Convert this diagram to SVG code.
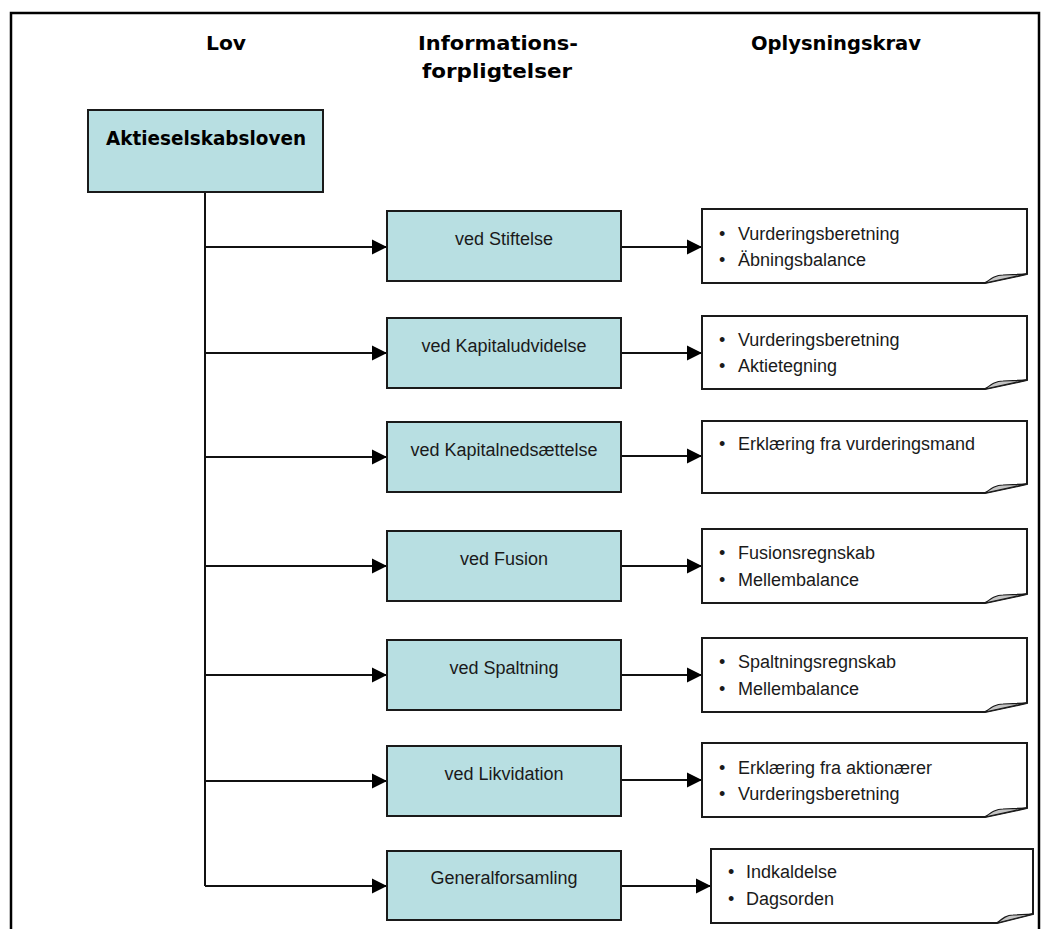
<svg xmlns="http://www.w3.org/2000/svg" width="1045" height="929" viewBox="0 0 1045 929">
<style>
.hdr{font-family:"DejaVu Sans",Verdana,sans-serif;font-weight:bold;font-size:19px;fill:#000;text-anchor:middle}
.box{fill:#B8DFE2;stroke:#1a1a1a;stroke-width:2}
.btxt{font-family:"Liberation Sans",Arial,sans-serif;font-size:18px;fill:#1a1a1a;text-anchor:middle}
.note{fill:#fff;stroke:#1a1a1a;stroke-width:2;stroke-linejoin:miter}
.fold{fill:#c4c4c4;stroke:#1a1a1a;stroke-width:1.2}
.ntxt{font-family:"Liberation Sans",Arial,sans-serif;font-size:18px;fill:#1a1a1a}
.con{fill:none;stroke:#111;stroke-width:2}
</style>
<defs>
<marker id="ah" markerUnits="userSpaceOnUse" markerWidth="16" markerHeight="16" viewBox="0 0 16 16" refX="15" refY="8" orient="auto">
<path d="M0,0.5 L15,8 L0,15.5 Z" fill="#000"/>
</marker>
</defs>
<rect width="1045" height="929" fill="#fff"/>
<g id="frame">
<path d="M11,929 V13 H1039 V929" fill="none" stroke="#000" stroke-width="2.5"/>
</g>
<g id="headers">
<text class="hdr" x="226" y="50" textLength="40" lengthAdjust="spacingAndGlyphs">Lov</text>
<text class="hdr" x="498" y="50" textLength="160" lengthAdjust="spacingAndGlyphs">Informations-</text>
<text class="hdr" x="497" y="78" textLength="150" lengthAdjust="spacingAndGlyphs">forpligtelser</text>
<text class="hdr" x="836" y="50" textLength="170" lengthAdjust="spacingAndGlyphs">Oplysningskrav</text>
</g>
<g id="connectors">
<path class="con" d="M205,192 V886"/>
<path class="con" d="M205,247 H387" marker-end="url(#ah)"/>
<path class="con" d="M205,353 H387" marker-end="url(#ah)"/>
<path class="con" d="M205,457 H387" marker-end="url(#ah)"/>
<path class="con" d="M205,566 H387" marker-end="url(#ah)"/>
<path class="con" d="M205,675 H387" marker-end="url(#ah)"/>
<path class="con" d="M205,781 H387" marker-end="url(#ah)"/>
<path class="con" d="M205,886 H387" marker-end="url(#ah)"/>
<path class="con" d="M621,247 H702" marker-end="url(#ah)"/>
<path class="con" d="M621,353 H702" marker-end="url(#ah)"/>
<path class="con" d="M621,456 H702" marker-end="url(#ah)"/>
<path class="con" d="M621,566 H702" marker-end="url(#ah)"/>
<path class="con" d="M621,675 H702" marker-end="url(#ah)"/>
<path class="con" d="M621,780 H702" marker-end="url(#ah)"/>
<path class="con" d="M621,886 H711" marker-end="url(#ah)"/>
</g>
<g id="n-aktieselskabsloven">
<rect class="box" x="88" y="110" width="235" height="82"/>
<text class="hdr" x="206" y="145" textLength="200" lengthAdjust="spacingAndGlyphs">Aktieselskabsloven</text>
</g>
<g id="n-stiftelse">
<rect class="box" x="387" y="211" width="234" height="70"/>
<text class="btxt" x="504" y="245">ved Stiftelse</text>
</g>
<g id="n-kapitaludvidelse">
<rect class="box" x="387" y="318" width="234" height="70"/>
<text class="btxt" x="504" y="352">ved Kapitaludvidelse</text>
</g>
<g id="n-kapitalnedsaettelse">
<rect class="box" x="387" y="422" width="234" height="70"/>
<text class="btxt" x="504" y="456">ved Kapitalnedsættelse</text>
</g>
<g id="n-fusion">
<rect class="box" x="387" y="531" width="234" height="70"/>
<text class="btxt" x="504" y="565">ved Fusion</text>
</g>
<g id="n-spaltning">
<rect class="box" x="387" y="640" width="234" height="70"/>
<text class="btxt" x="504" y="674">ved Spaltning</text>
</g>
<g id="n-likvidation">
<rect class="box" x="387" y="746" width="234" height="70"/>
<text class="btxt" x="504" y="780">ved Likvidation</text>
</g>
<g id="n-generalforsamling">
<rect class="box" x="387" y="851" width="234" height="69"/>
<text class="btxt" x="504" y="884">Generalforsamling</text>
</g>
<g id="k-stiftelse">
<path class="note" d="M702,209 H1027 V274 L985,283 H702 Z"/>
<path class="fold" d="M985,283 C992,278 996,275 1003,275 L1027,274 Z"/>
<text class="ntxt" x="719" y="240">•</text><text class="ntxt" x="738" y="240">Vurderingsberetning</text>
<text class="ntxt" x="719" y="266">•</text><text class="ntxt" x="738" y="266">Äbningsbalance</text>
</g>
<g id="k-kapitaludvidelse">
<path class="note" d="M702,316 H1027 V380 L985,389 H702 Z"/>
<path class="fold" d="M985,389 C992,384 996,381 1003,381 L1027,380 Z"/>
<text class="ntxt" x="719" y="346">•</text><text class="ntxt" x="738" y="346">Vurderingsberetning</text>
<text class="ntxt" x="719" y="372">•</text><text class="ntxt" x="738" y="372">Aktietegning</text>
</g>
<g id="k-kapitalnedsaettelse">
<path class="note" d="M702,421 H1027 V484 L985,493 H702 Z"/>
<path class="fold" d="M985,493 C992,488 996,485 1003,485 L1027,484 Z"/>
<text class="ntxt" x="719" y="450">•</text><text class="ntxt" x="738" y="450">Erklæring fra vurderingsmand</text>
</g>
<g id="k-fusion">
<path class="note" d="M702,529 H1027 V594 L985,603 H702 Z"/>
<path class="fold" d="M985,603 C992,598 996,595 1003,595 L1027,594 Z"/>
<text class="ntxt" x="719" y="559">•</text><text class="ntxt" x="738" y="559">Fusionsregnskab</text>
<text class="ntxt" x="719" y="586">•</text><text class="ntxt" x="738" y="586">Mellembalance</text>
</g>
<g id="k-spaltning">
<path class="note" d="M702,638 H1027 V703 L985,712 H702 Z"/>
<path class="fold" d="M985,712 C992,707 996,704 1003,704 L1027,703 Z"/>
<text class="ntxt" x="719" y="668">•</text><text class="ntxt" x="738" y="668">Spaltningsregnskab</text>
<text class="ntxt" x="719" y="695">•</text><text class="ntxt" x="738" y="695">Mellembalance</text>
</g>
<g id="k-likvidation">
<path class="note" d="M702,743 H1027 V808 L985,817 H702 Z"/>
<path class="fold" d="M985,817 C992,812 996,809 1003,809 L1027,808 Z"/>
<text class="ntxt" x="719" y="774">•</text><text class="ntxt" x="738" y="774">Erklæring fra aktionærer</text>
<text class="ntxt" x="719" y="800">•</text><text class="ntxt" x="738" y="800">Vurderingsberetning</text>
</g>
<g id="k-generalforsamling">
<path class="note" d="M711,849 H1033 V914 L997,923 H711 Z"/>
<path class="fold" d="M997,923 C1003,918 1007,915 1013,915 L1033,914 Z"/>
<text class="ntxt" x="728" y="878">•</text><text class="ntxt" x="746" y="878">Indkaldelse</text>
<text class="ntxt" x="728" y="905">•</text><text class="ntxt" x="746" y="905">Dagsorden</text>
</g>
</svg>
